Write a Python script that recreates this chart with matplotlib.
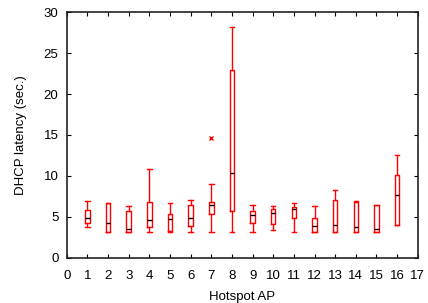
import matplotlib
matplotlib.use("Agg")
import matplotlib.pyplot as plt

plt.rcParams['font.family'] = ['Liberation Sans', 'DejaVu Sans']

aps = list(range(1, 17))
whislo = [3.7, 3.2, 3.2, 3.2, 3.2, 3.2, 3.2, 3.2, 3.2, 3.4, 3.2, 3.2, 3.2, 3.2, 3.2, 4.05]
q1     = [4.2, 3.2, 3.2, 3.8, 3.25, 3.85, 5.35, 5.75, 4.3, 4.15, 4.8, 3.2, 3.2, 3.2, 3.2, 4.05]
med    = [4.8, 4.3, 3.45, 4.6, 4.7, 4.8, 6.45, 10.3, 5.2, 5.5, 5.9, 3.85, 4.0, 3.75, 3.5, 7.7]
q3     = [5.8, 6.65, 5.65, 6.85, 5.4, 6.5, 6.8, 22.9, 5.7, 5.95, 6.2, 4.9, 7.0, 6.75, 6.45, 10.05]
whishi = [6.98, 6.65, 6.3, 10.85, 6.7, 7.05, 9.0, 28.2, 6.45, 6.3, 6.7, 6.3, 8.25, 6.95, 6.45, 12.5]
fliers = {7: [14.6]}

stats = []
for i, ap in enumerate(aps):
    stats.append(dict(whislo=whislo[i], q1=q1[i], med=med[i], q3=q3[i],
                      whishi=whishi[i], fliers=fliers.get(ap, [])))

fig = plt.figure(figsize=(4.28, 3.03), dpi=100)
ax = fig.add_axes([0.156, 0.1495, 0.820, 0.810])

red = '#ff0000'
ax.bxp(stats, positions=aps, widths=0.22, showfliers=True, manage_ticks=False,
       boxprops=dict(color=red, linewidth=1.0),
       whiskerprops=dict(color=red, linewidth=1.0),
       capprops=dict(color=red, linewidth=1.0),
       medianprops=dict(color='black', linewidth=1.0),
       flierprops=dict(marker='x', markeredgecolor=red, markersize=3, markeredgewidth=1.0),
       capwidths=0.22)

ax.set_xlim(0, 17)
ax.set_ylim(0, 30)
ax.set_xticks(range(0, 18))
ax.set_yticks(range(0, 31, 5))
ax.tick_params(direction='in', top=True, right=True, labelsize=9.5, length=3, width=0.8)
ax.tick_params(axis='x', pad=8.5)
ax.tick_params(axis='y', pad=6)
for s in ax.spines.values():
    s.set_linewidth(1.2)
    s.set_color('#222222')
ax.set_xlabel('Hotspot AP', fontsize=9.5, labelpad=7)
ax.set_ylabel('DHCP latency (sec.)', fontsize=9.5, labelpad=12)

fig.savefig('out.png', dpi=100)
